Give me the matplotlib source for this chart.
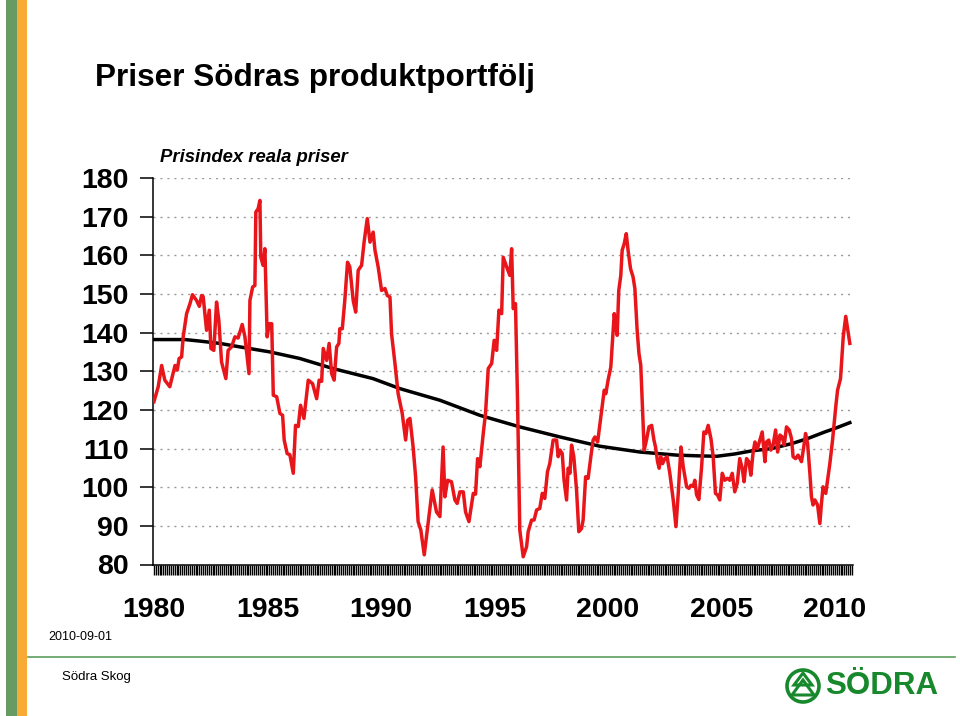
import matplotlib
matplotlib.use("Agg")
import numpy as np
import matplotlib.pyplot as plt
from matplotlib.ticker import FixedLocator
from matplotlib.patches import Rectangle, Circle, Polygon

plt.rcParams['font.family'] = ['Liberation Sans', 'DejaVu Sans']

# Prisindex, reala priser (år som decimaltal)
ar_index = [1980.00, 1980.19, 1980.34, 1980.48, 1980.70, 1980.93, 1981.03, 1981.11, 1981.22, 1981.29,
            1981.44, 1981.59, 1981.70, 1981.88, 1982.00, 1982.10, 1982.17, 1982.32, 1982.44, 1982.51,
            1982.64, 1982.76, 1982.86, 1982.98, 1983.17, 1983.27, 1983.42, 1983.57, 1983.71, 1983.89,
            1984.01, 1984.19, 1984.23, 1984.35, 1984.45, 1984.49, 1984.59, 1984.67, 1984.71, 1984.81,
            1984.89, 1984.99, 1985.08, 1985.19, 1985.26, 1985.41, 1985.55, 1985.67, 1985.74, 1985.87,
            1985.99, 1986.14, 1986.24, 1986.36, 1986.46, 1986.61, 1986.80, 1986.99, 1987.17, 1987.28,
            1987.39, 1987.46, 1987.61, 1987.72, 1987.83, 1987.94, 1988.05, 1988.15, 1988.19, 1988.30,
            1988.41, 1988.53, 1988.63, 1988.78, 1988.89, 1989.00, 1989.15, 1989.26, 1989.40, 1989.52,
            1989.66, 1989.74, 1989.88, 1990.03, 1990.18, 1990.28, 1990.40, 1990.47, 1990.62, 1990.76,
            1990.94, 1991.09, 1991.18, 1991.28, 1991.42, 1991.53, 1991.64, 1991.76, 1991.91, 1992.08,
            1992.26, 1992.45, 1992.60, 1992.74, 1992.82, 1992.94, 1993.11, 1993.26, 1993.36, 1993.48,
            1993.63, 1993.73, 1993.88, 1994.07, 1994.17, 1994.26, 1994.36, 1994.51, 1994.61, 1994.73,
            1994.88, 1994.99, 1995.10, 1995.20, 1995.32, 1995.39, 1995.54, 1995.68, 1995.76, 1995.83,
            1995.93, 1996.02, 1996.12, 1996.27, 1996.42, 1996.49, 1996.64, 1996.75, 1996.86, 1997.00,
            1997.11, 1997.22, 1997.34, 1997.44, 1997.59, 1997.74, 1997.81, 1997.89, 1997.99, 1998.07,
            1998.18, 1998.25, 1998.33, 1998.40, 1998.50, 1998.62, 1998.72, 1998.84, 1998.91, 1999.02,
            1999.13, 1999.25, 1999.35, 1999.43, 1999.55, 1999.69, 1999.84, 1999.91, 2000.01, 2000.13,
            2000.19, 2000.28, 2000.34, 2000.41, 2000.48, 2000.57, 2000.63, 2000.72, 2000.81, 2000.89,
            2001.00, 2001.11, 2001.19, 2001.29, 2001.37, 2001.45, 2001.53, 2001.60, 2001.70, 2001.81,
            2001.93, 2002.03, 2002.10, 2002.19, 2002.26, 2002.33, 2002.41, 2002.51, 2002.61, 2002.73,
            2002.88, 2003.00, 2003.10, 2003.22, 2003.32, 2003.47, 2003.57, 2003.66, 2003.76, 2003.83,
            2003.91, 2004.01, 2004.13, 2004.23, 2004.32, 2004.42, 2004.54, 2004.64, 2004.74, 2004.83,
            2004.93, 2005.04, 2005.15, 2005.27, 2005.37, 2005.48, 2005.59, 2005.70, 2005.81, 2005.92,
            2006.00, 2006.11, 2006.21, 2006.30, 2006.40, 2006.48, 2006.59, 2006.70, 2006.80, 2006.92,
            2006.99, 2007.09, 2007.18, 2007.28, 2007.39, 2007.48, 2007.58, 2007.68, 2007.77, 2007.87,
            2007.99, 2008.09, 2008.16, 2008.27, 2008.38, 2008.53, 2008.63, 2008.71, 2008.80, 2008.90,
            2008.97, 2009.04, 2009.12, 2009.24, 2009.34, 2009.41, 2009.48, 2009.60, 2009.78, 2009.90,
            2010.04, 2010.12, 2010.25, 2010.37, 2010.48, 2010.66]
prisindex = [122.1, 126.0, 131.5, 127.7, 126.0, 131.5, 130.3, 133.3, 133.7, 138.9,
             144.9, 147.5, 149.8, 148.3, 146.8, 149.6, 149.3, 140.6, 145.8, 135.9,
             135.4, 147.9, 143.2, 132.4, 128.1, 135.4, 136.3, 138.9, 138.6, 142.1,
             138.9, 129.4, 148.3, 151.8, 152.2, 171.2, 172.0, 174.2, 159.5, 157.4,
             161.7, 138.9, 142.3, 142.3, 123.8, 123.4, 119.1, 118.6, 112.2, 108.7,
             108.4, 103.6, 116.0, 115.7, 121.2, 117.8, 127.7, 126.8, 122.9, 127.7,
             127.4, 135.9, 132.8, 137.2, 129.4, 127.7, 136.3, 137.2, 141.0, 141.0,
             148.3, 158.2, 157.0, 148.3, 145.3, 156.1, 157.4, 163.4, 169.5, 163.4,
             166.0, 161.3, 157.0, 150.9, 151.4, 149.6, 149.2, 139.7, 132.0, 124.2,
             119.1, 112.2, 117.3, 117.8, 110.4, 102.7, 91.1, 88.9, 82.5, 90.6,
             99.3, 93.6, 92.4, 110.4, 97.5, 101.8, 101.4, 96.7, 95.8, 98.8,
             98.8, 93.6, 91.1, 98.4, 98.2, 107.4, 105.3, 113.9, 119.1, 130.7,
             132.0, 138.0, 135.4, 145.8, 144.9, 159.5, 157.0, 154.8, 161.7, 146.2,
             147.5, 122.5, 88.9, 82.0, 84.6, 88.5, 91.5, 91.5, 94.1, 94.5,
             98.4, 97.1, 104.0, 106.1, 112.2, 112.2, 107.9, 109.6, 108.7, 101.8,
             96.7, 104.9, 103.6, 110.9, 107.9, 99.3, 88.5, 89.3, 91.5, 102.7,
             102.3, 107.9, 112.2, 113.0, 111.7, 118.2, 125.1, 124.2, 127.7, 131.1,
             136.7, 144.9, 141.9, 139.3, 150.9, 154.8, 161.3, 163.0, 165.6, 161.3,
             156.5, 154.4, 151.4, 140.6, 134.6, 131.5, 119.9, 109.6, 112.2, 115.6,
             116.0, 112.2, 110.4, 106.6, 104.9, 107.9, 106.1, 107.4, 107.9, 103.6,
             96.7, 89.8, 98.4, 110.4, 105.3, 100.1, 99.7, 100.5, 100.2, 101.8,
             98.0, 96.8, 105.3, 114.3, 113.9, 116.0, 112.6, 107.9, 98.4, 98.0,
             96.7, 103.6, 101.8, 102.3, 101.8, 103.6, 98.8, 101.0, 107.4, 104.9,
             101.4, 107.4, 106.6, 103.1, 109.1, 111.7, 110.0, 112.2, 114.3, 106.6,
             111.7, 112.2, 109.6, 110.9, 114.8, 109.1, 113.5, 113.0, 110.9, 115.6,
             114.8, 112.6, 107.9, 107.4, 108.3, 106.6, 110.4, 113.9, 111.3, 103.6,
             97.5, 95.4, 96.7, 95.4, 90.6, 95.8, 100.1, 98.4, 106.1, 112.2,
             120.8, 125.1, 128.1, 138.9, 144.2, 137.2]

# Trend
ar_trend = [1980.00, 1981.37, 1982.03, 1982.91, 1983.79, 1985.11, 1986.43, 1987.89, 1989.65,
            1990.84, 1992.60, 1994.36, 1996.12, 1997.89, 1999.65, 2001.41, 2003.04, 2004.05,
            2004.80, 2005.59, 2006.34, 2007.22, 2008.11, 2008.81, 2009.56, 2010.00, 2010.66]
trend = [138.2, 138.2, 137.8, 137.2, 136.3, 135.0, 133.3, 130.7, 128.1,
         125.5, 122.5, 118.6, 115.6, 113.0, 110.6, 109.1, 108.3, 108.1,
         108.0, 108.6, 109.4, 110.0, 111.3, 112.6, 114.3, 115.2, 116.7]

y_ticks = [80, 90, 100, 110, 120, 130, 140, 150, 160, 170, 180]
x_ticks = [1980, 1985, 1990, 1995, 2000, 2005, 2010]

W, H = 960, 716
fig = plt.figure(figsize=(W / 100, H / 100), dpi=100)

# dekor (pixelkoordinater)
bg = fig.add_axes([0, 0, 1, 1])
bg.set_xlim(0, W)
bg.set_ylim(H, 0)
bg.axis('off')
bg.add_patch(Rectangle((6, 0), 11, H, color='#679b63', lw=0))
bg.add_patch(Rectangle((17, 0), 10, H, color='#f8aa35', lw=0))
bg.plot([28, 955], [657, 657], color='#5d9e5d', lw=1.2)
bg.text(48, 637, '2010-09-01', fontsize=9, va='center')
bg.text(62, 677, 'Södra Skog', fontsize=9.5, va='center')
logo_green = '#17892c'
bg.add_patch(Circle((803, 686), 16, fill=False, ec=logo_green, lw=2.6))
bg.add_patch(Polygon([(803, 673), (794, 685), (812, 685)], closed=True, fill=False, ec=logo_green, lw=2.2))
bg.add_patch(Polygon([(803, 680), (792, 695), (814, 695)], closed=True, fill=False, ec=logo_green, lw=2.2))
bg.text(825, 686, 'SÖDRA', fontsize=22.5, fontweight='bold', color=logo_green, va='center')

fig.text(95 / W, 1 - 78 / H, 'Priser Södras produktportfölj', fontsize=22.7,
         fontweight='bold', va='center')
fig.text(160 / W, 1 - 157 / H, 'Prisindex reala priser', fontsize=13.3,
         fontweight='bold', style='italic', va='center')

ax = fig.add_axes([153 / W, 151.5 / H, 700 / W, 386.5 / H])
ax.plot(ar_index, prisindex, color='#e8161b', lw=2.5, solid_joinstyle='round', zorder=3)
ax.plot(ar_trend, trend, color='black', lw=2.5, zorder=2)

ax.set_xlim(1979.96, 2010.80)
ax.set_ylim(80, 180)
ax.set_yticks(y_ticks)
ax.set_yticklabels([str(v) for v in y_ticks], fontsize=20.5, fontweight='bold')
ax.set_xticks(x_ticks)
ax.set_xticklabels([str(v) for v in x_ticks], fontsize=20.5, fontweight='bold')
ax.xaxis.set_minor_locator(FixedLocator(np.arange(1980, 2010.8, 1 / 12)))
ax.tick_params(axis='y', direction='out', length=9.4, width=1.1, pad=8)
ax.tick_params(axis='x', which='both', direction='out', length=7.2, width=1.0, pad=16)
ax.yaxis.grid(True, linestyle=(0, (1.5, 3.5)), color='#9a9a9a', lw=1.0)
ax.set_axisbelow(True)
for s in ['top', 'right']:
    ax.spines[s].set_visible(False)
for s in ['left', 'bottom']:
    ax.spines[s].set_linewidth(1.1)

fig.savefig('out.png', dpi=100)
